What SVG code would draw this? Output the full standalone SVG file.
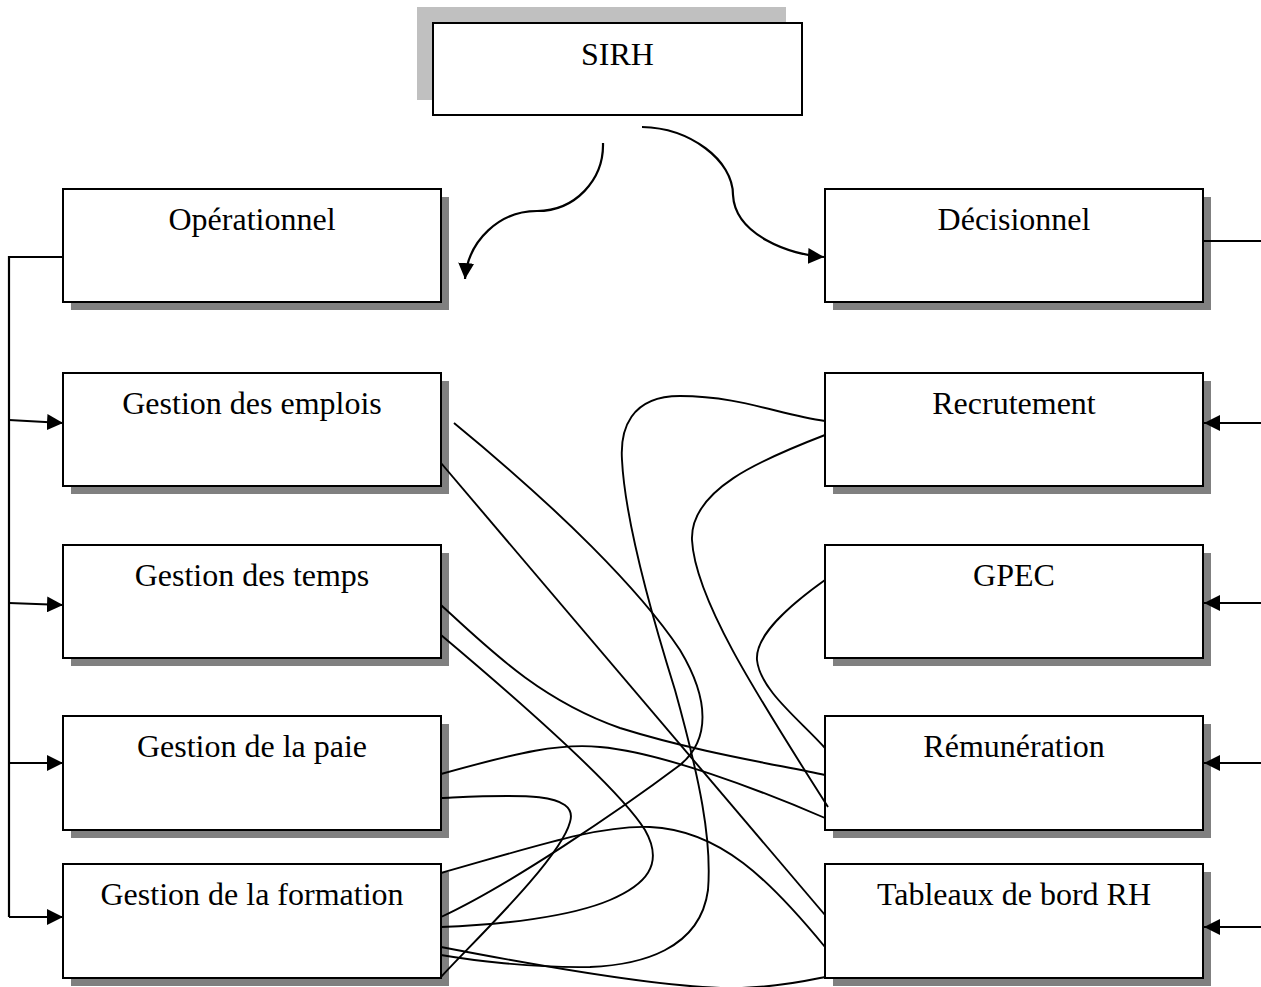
<svg xmlns="http://www.w3.org/2000/svg" width="1261" height="987" viewBox="0 0 1261 987">
  <style>
    .box { fill: #ffffff; stroke: #000000; stroke-width: 2; }
    .shadow { fill: #808080; }
    .shadow-top { fill: #c0c0c0; }
    .label { font-family: "Liberation Serif", "Times New Roman", serif; font-size: 32px; fill: #000000; text-anchor: middle; }
    .link { fill: none; stroke: #000000; stroke-width: 1.9; }
    .flow { fill: none; stroke: #000000; stroke-width: 2.2; }
  </style>
  <defs>
    <marker id="arrow" markerUnits="userSpaceOnUse" markerWidth="17" markerHeight="16" refX="16" refY="8" orient="auto">
      <path d="M0,0 L16,8 L0,16 Z" fill="#000000"/>
    </marker>
  </defs>

  <rect width="1261" height="987" fill="#ffffff"/>

  <!-- Root node -->
  <g id="node-sirh">
    <rect class="shadow-top" x="417" y="7" width="369" height="93"/>
    <rect class="box" x="433" y="23" width="369" height="92"/>
    <text class="label" x="617.5" y="65">SIRH</text>
  </g>

  <!-- Left column -->
  <g id="node-operationnel">
    <rect class="shadow" x="71" y="197" width="378" height="113"/>
    <rect class="box" x="63" y="189" width="378" height="113"/>
    <text class="label" x="252" y="230">Opérationnel</text>
  </g>
  <g id="node-emplois">
    <rect class="shadow" x="71" y="381" width="378" height="113"/>
    <rect class="box" x="63" y="373" width="378" height="113"/>
    <text class="label" x="252" y="414">Gestion des emplois</text>
  </g>
  <g id="node-temps">
    <rect class="shadow" x="71" y="553" width="378" height="113"/>
    <rect class="box" x="63" y="545" width="378" height="113"/>
    <text class="label" x="252" y="586">Gestion des temps</text>
  </g>
  <g id="node-paie">
    <rect class="shadow" x="71" y="724" width="378" height="114"/>
    <rect class="box" x="63" y="716" width="378" height="114"/>
    <text class="label" x="252" y="757">Gestion de la paie</text>
  </g>
  <g id="node-formation">
    <rect class="shadow" x="71" y="872" width="378" height="114"/>
    <rect class="box" x="63" y="864" width="378" height="114"/>
    <text class="label" x="252" y="905">Gestion de la formation</text>
  </g>

  <!-- Right column -->
  <g id="node-decisionnel">
    <rect class="shadow" x="833" y="197" width="378" height="113"/>
    <rect class="box" x="825" y="189" width="378" height="113"/>
    <text class="label" x="1014" y="230">Décisionnel</text>
  </g>
  <g id="node-recrutement">
    <rect class="shadow" x="833" y="381" width="378" height="113"/>
    <rect class="box" x="825" y="373" width="378" height="113"/>
    <text class="label" x="1014" y="414">Recrutement</text>
  </g>
  <g id="node-gpec">
    <rect class="shadow" x="833" y="553" width="378" height="113"/>
    <rect class="box" x="825" y="545" width="378" height="113"/>
    <text class="label" x="1014" y="586">GPEC</text>
  </g>
  <g id="node-remuneration">
    <rect class="shadow" x="833" y="724" width="378" height="114"/>
    <rect class="box" x="825" y="716" width="378" height="114"/>
    <text class="label" x="1014" y="757">Rémunération</text>
  </g>
  <g id="node-tableaux">
    <rect class="shadow" x="833" y="872" width="378" height="114"/>
    <rect class="box" x="825" y="864" width="378" height="114"/>
    <text class="label" x="1014" y="905">Tableaux de bord RH</text>
  </g>

  <g id="connectors">
    <!-- SIRH split into the two branches -->
    <path class="flow" d="M603,143 C604,180 575,211 537,211 C500,211 468,240 465,279" marker-end="url(#arrow)"/>
    <path class="flow" d="M642,127 C690,128 733,160 733,195 C735,235 790,255 824,257" marker-end="url(#arrow)"/>

    <!-- Operational bus on the left -->
    <path class="flow" d="M63,257 L9,257 L9,917"/>
    <path class="flow" d="M9,420 L63,423" marker-end="url(#arrow)"/>
    <path class="flow" d="M9,603 L63,605" marker-end="url(#arrow)"/>
    <path class="flow" d="M9,763 L63,763" marker-end="url(#arrow)"/>
    <path class="flow" d="M9,917 L63,917" marker-end="url(#arrow)"/>

    <!-- Decision bus on the right -->
    <path class="flow" d="M1203,241 L1261,241"/>
    <path class="flow" d="M1261,423 L1204,423" marker-end="url(#arrow)"/>
    <path class="flow" d="M1261,603 L1204,603" marker-end="url(#arrow)"/>
    <path class="flow" d="M1261,763 L1204,763" marker-end="url(#arrow)"/>
    <path class="flow" d="M1261,927 L1204,927" marker-end="url(#arrow)"/>

    <!-- Cross links between modules -->
    <path class="link" d="M454,423 C560,510 640,590 680,650 C710,700 710,740 680,765 C620,810 510,885 441,917"/>
    <path class="link" d="M441,463 L825,915"/>
    <path class="link" d="M441,605 C490,650 540,700 620,728 C700,753 780,765 825,775"/>
    <path class="link" d="M441,635 C530,710 620,790 645,830 C665,865 645,885 610,900 C570,917 500,925 441,927"/>
    <path class="link" d="M441,774 C520,752 560,743 600,747 C660,752 760,790 825,818"/>
    <path class="link" d="M441,798 C510,795 580,790 570,822 C560,860 470,945 441,977"/>
    <path class="link" d="M441,873 C540,845 600,825 650,827 C720,830 770,880 825,947"/>
    <path class="link" d="M441,947 C560,970 680,990 740,988 C780,987 810,980 825,977"/>
    <path class="link" d="M825,421 C780,415 740,396 680,396 C630,396 620,430 622,460 C625,520 650,610 675,690 C700,780 712,840 708,890 C700,950 640,965 590,967 C530,968 470,960 441,955"/>
    <path class="link" d="M825,435 C760,460 690,490 692,540 C695,600 760,700 828,807"/>
    <path class="link" d="M825,580 C790,605 755,635 757,660 C760,690 800,720 825,748"/>
  </g>
</svg>
